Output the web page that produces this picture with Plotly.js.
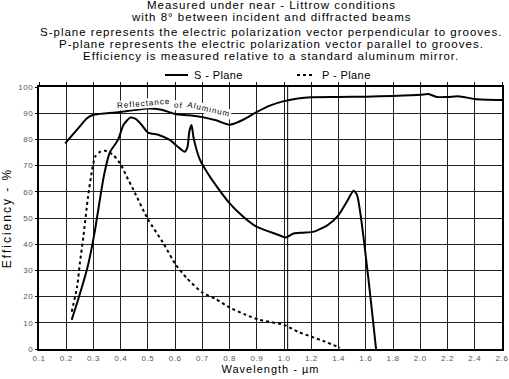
<!DOCTYPE html>
<html><head><meta charset="utf-8">
<script src="https://cdn.plot.ly/plotly-3.0.1.min.js"></script>
<style>
html,body{margin:0;padding:0;background:#fff}#c{width:509px;height:379px}
text.annotation-text{letter-spacing:1px}
text.xtitle{letter-spacing:1px}
text.ytitle{letter-spacing:2px}
.xtick text,.ytick text{letter-spacing:0.6px}
</style>
</head><body><div id="c"></div>
<script>
// Wavelength ticks (µm) – axis is 0.1 steps up to 1.0, then 0.2 steps
const tickWl = [0.1,0.2,0.3,0.4,0.5,0.6,0.7,0.8,0.9,1.0,1.2,1.4,1.6,1.8,2.0,2.2,2.4,2.6];
const tickLabels = ['0.1','0.2','0.3','0.4','0.5','0.6','0.7','0.8','0.9','1.0','1.2','1.4','1.6','1.8','2.0','2.2','2.4','2.6'];
const yTicks = [0,10,20,30,40,50,60,70,80,90,100];
const seriesNames = ['S - Plane', 'P - Plane'];

// Reflectance of aluminum
const reflWl  = [0.196,0.25,0.275,0.30,0.35,0.40,0.45,0.50,0.55,0.60,0.65,0.70,0.75,0.80,0.85,0.90,0.95,1.0,1.1,1.2,1.4,1.6,1.8,2.0,2.06,2.12,2.2,2.28,2.4,2.6];
const reflVal = [78.5,85,88,89.4,90,90.5,91.2,91.8,91.3,89.7,89.2,88.5,87.3,85.6,87.5,90.5,93,94.6,95.6,96.1,96.2,96.3,96.6,97.0,97.3,96.2,96.2,96.5,95.4,95.0];

// S - Plane
const sWl  = [0.22,0.25,0.28,0.305,0.325,0.34,0.36,0.39,0.41,0.435,0.455,0.477,0.50,0.54,0.58,0.61,0.635,0.645,0.652,0.66,0.668,0.69,0.72,0.753,0.80,0.85,0.90,0.94,0.98,1.01,1.07,1.14,1.22,1.32,1.40,1.46,1.51,1.535,1.675];
const sVal = [11.1,21,32,45,58,67,75,79.8,85.5,88.3,87.8,85.5,82.6,81.7,79.8,77.2,75.3,77,83,85.5,80.4,72.5,67,62,55.6,50.5,46.6,45,43.5,42.6,44.1,44.4,44.8,47.3,51.1,56.2,60.4,58.8,0];

// P - Plane
const pWl  = [0.22,0.24,0.25,0.263,0.28,0.295,0.306,0.325,0.343,0.373,0.40,0.422,0.447,0.50,0.557,0.60,0.643,0.70,0.75,0.80,0.86,0.91,1.0,1.1,1.2,1.3,1.41];
const pVal = [14.2,23.8,32.7,42.9,58.1,68.3,73.4,75.3,75.7,74,70.5,65.8,60.7,49.5,40.3,32.5,27,21.5,19,15.8,13,11.1,9.2,6.6,4.7,2.8,0.5];

// piecewise axis scale: 0.1 per division below 1.0 µm, 0.2 per division above
function xu(w){ return w <= 1 ? (w-0.1)/0.1 : 9 + (w-1)/0.2; }

const font = 'Liberation Sans, Arial, Helvetica, sans-serif';
const sLine = {color:'#000', width:2};
const pLine = {color:'#000', width:2, dash:'3px,3px'};
const traces = [
  {x: sWl.map(xu), y: sVal, mode:'lines', name:seriesNames[0], showlegend:false, line:Object.assign({shape:'spline', smoothing:0.6}, sLine)},
  {x: pWl.map(xu), y: pVal, mode:'lines', name:seriesNames[1], showlegend:false, line:Object.assign({shape:'spline', smoothing:0.6}, pLine)},
  {x: reflWl.map(xu), y: reflVal, mode:'lines', name:'Reflectance', showlegend:false, xaxis:'x2', line:{color:'#000', width:2, shape:'spline', smoothing:0.6}}
];

const py = p => (349 - p) / 262; // header placement in paper units
const px = p => (p - 39) / 463;
const hdr = [
  ['Measured under near - Littrow conditions', 5.5],
  ['with 8° between incident and diffracted beams', 16.5],
  ['S-plane represents the electric polarization vector perpendicular to grooves.', 32.5],
  ['P-plane represents the electric polarization vector parallel to grooves.', 44],
  ['Efficiency is measured relative to a standard aluminum mirror.', 55.5]
];
const annotations = hdr.map(h => ({text:h[0], xref:'paper', yref:'paper', x:px(271), y:py(h[1]), xanchor:'center', yanchor:'middle', showarrow:false, font:{family:font, size:11.5, color:'#000'}}));
const lab = {family:font, size:8, color:'#000'};
annotations.push(
  {text:'Reflectance', xref:'x', yref:'y', x:xu(0.484), y:93.8, textangle:-5, showarrow:false, font:lab, bgcolor:'#fff', borderpad:0},
  {text:'of', xref:'x', yref:'y', x:xu(0.613), y:92.8, textangle:6, showarrow:false, font:lab, bgcolor:'#fff', borderpad:0},
  {text:'Aluminum', xref:'x', yref:'y', x:xu(0.725), y:91.3, textangle:13, showarrow:false, font:lab, bgcolor:'#fff', borderpad:0}
);
// hand-made legend (sample line + label)
const legY = py(75);
const legItems = [[165, 188, 192, sLine], [297, 315, 320, pLine]];
const shapes = [{type:'line', xref:'x', yref:'paper', x0:xu(1.0)+0.13, x1:xu(1.0)+0.13, y0:0, y1:1, line:{color:'#000', width:1}}];
legItems.forEach((it, i) => {
  shapes.push({type:'line', xref:'paper', yref:'paper', x0:px(it[0]), x1:px(it[1]), y0:legY, y1:legY, line:it[3]});
  annotations.push({text:'<span style="letter-spacing:0.4px">' + seriesNames[i] + '</span>', xref:'paper', yref:'paper', x:px(it[2]), y:legY, xanchor:'left', yanchor:'middle', showarrow:false, font:{family:font, size:11, color:'#000'}});
});

const layout = {
  width:509, height:379,
  margin:{l:39, r:7, t:87, b:30, pad:0},
  paper_bgcolor:'#fff', plot_bgcolor:'#fff',
  font:{family:font, color:'#000'},
  showlegend:false,
  xaxis:{range:[0,17], tickvals:tickWl.map(xu), ticktext:tickLabels, showgrid:true, gridcolor:'#222', gridwidth:1,
    showline:true, linecolor:'#000', linewidth:2, mirror:true, zeroline:false, ticks:'', tickfont:{family:font, size:8, color:'#555'},
    title:{text:'Wavelength - µm', font:{family:font, size:11, color:'#000'}, standoff:4}},
  xaxis2:{range:[0,17], overlaying:'x', anchor:'y', side:'top', tickmode:'array', tickvals:tickWl.map(xu), showticklabels:false, ticks:'outside', ticklen:4, tickwidth:1, tickcolor:'#000', showgrid:false, zeroline:false, showline:false},
  yaxis:{range:[0,100], tickvals:yTicks, showgrid:true, gridcolor:'#222', gridwidth:1, showline:true, linecolor:'#000', linewidth:2, mirror:true,
    zeroline:false, ticks:'outside', ticklen:2, tickcolor:'#000', tickfont:{family:font, size:8, color:'#555'},
    title:{text:'Efficiency - %', font:{family:font, size:12, color:'#000'}, standoff:9}},
  shapes: shapes,
  annotations: annotations
};
Plotly.newPlot('c', traces, layout, {displayModeBar:false, staticPlot:true});
</script></body></html>
